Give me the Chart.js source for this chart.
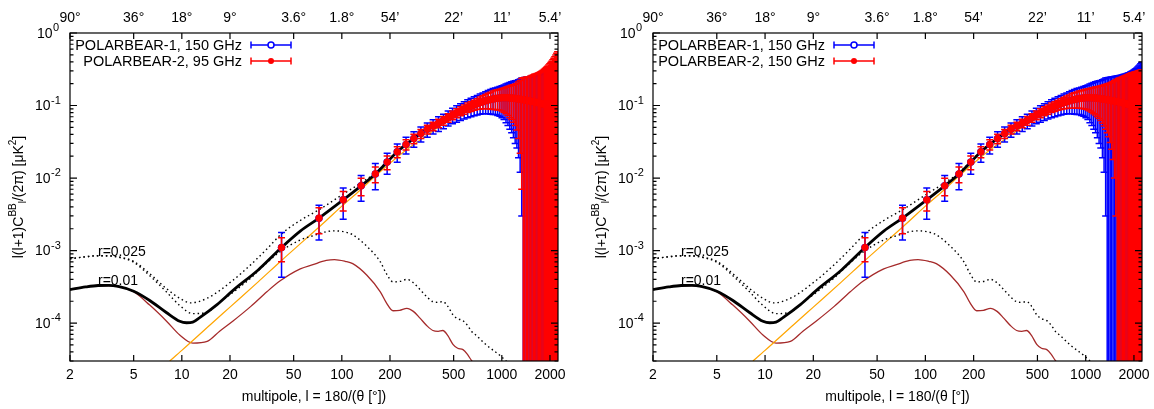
<!DOCTYPE html>
<html>
<head>
<meta charset="utf-8">
<script src="https://cdn.jsdelivr.net/npm/chart.js@4.4.0/dist/chart.umd.min.js"></script>
<style>
  body { margin: 0; background: #fff; width: 1154px; height: 409px; overflow: hidden; position: relative; }
  canvas { position: absolute; top: 0; }
  #left { left: 0; }
  #right { left: 577px; }
</style>
</head>
<body>
<canvas id="left" width="577" height="409"></canvas>
<canvas id="right" width="577" height="409"></canvas>
<script>
// bin centres (multipole l) and the fiducial band powers at those bins
const binL = [42, 72, 102, 132, 162, 192, 222, 252, 282, 312, 342, 372, 402, 432, 462, 492, 522, 552, 582, 612,
  642, 672, 702, 732, 762, 792, 822, 852, 882, 912, 942, 972, 1002, 1032, 1062, 1092, 1122, 1152, 1182, 1212,
  1242, 1272, 1302, 1332, 1362, 1392, 1422, 1452, 1482, 1512, 1542, 1572, 1602, 1632, 1662, 1692, 1722, 1752,
  1782, 1812, 1842, 1872, 1902, 1932, 1962, 1992, 2022, 2052, 2082, 2112, 2142, 2172, 2202, 2232];
const binC = [0.0011, 0.0028, 0.0050, 0.0078, 0.0114, 0.0166, 0.023, 0.029, 0.035, 0.041, 0.047, 0.052, 0.057,
  0.062, 0.068, 0.074, 0.079, 0.084, 0.089, 0.094, 0.098, 0.102, 0.106, 0.110, 0.113, 0.116, 0.119, 0.121, 0.123,
  0.125, 0.126, 0.127, 0.128, 0.128, 0.128, 0.128, 0.127, 0.127, 0.126, 0.125, 0.124, 0.123, 0.122, 0.121, 0.120,
  0.119, 0.118, 0.117, 0.116, 0.115, 0.114, 0.113, 0.112, 0.111, 0.110, 0.109, 0.108, 0.107, 0.106, 0.105, 0.104,
  0.103, 0.102, 0.101, 0.100, 0.099, 0.098, 0.097, 0.096, 0.095, 0.094, 0.093, 0.092, 0.091];

// 1-sigma errors
const errPB1 = [0.00067, 0.0014, 0.0023, 0.0030, 0.0045, 0.0053, 0.0065, 0.0075, 0.0085, 0.0095, 0.0105, 0.0115,
  0.013, 0.014, 0.016, 0.018, 0.020, 0.022, 0.024, 0.026, 0.028, 0.030, 0.032, 0.034, 0.036, 0.039, 0.042, 0.045,
  0.048, 0.050, 0.053, 0.056, 0.060, 0.064, 0.070, 0.075, 0.080, 0.085, 0.090, 0.095, 0.098, 0.104, 0.110, 0.118,
  0.122, 0.125, 0.128, 0.131, 0.134, 0.137, 0.140, 0.143, 0.146, 0.149, 0.152, 0.155, 0.159, 0.163, 0.167, 0.171,
  0.176, 0.181, 0.187, 0.193, 0.200, 0.207, 0.215, 0.224, 0.234, 0.245, 0.257, 0.270, 0.285, 0.300];
const errPB2_95 = [0.0004, 0.0011, 0.0015, 0.0021, 0.0028, 0.0036, 0.0040, 0.0046, 0.0052, 0.0058, 0.0064, 0.0070,
  0.0078, 0.0085, 0.0093, 0.0102, 0.011, 0.012, 0.013, 0.014, 0.015, 0.016, 0.018, 0.021, 0.023, 0.026, 0.029,
  0.032, 0.035, 0.037, 0.039, 0.041, 0.044, 0.047, 0.051, 0.055, 0.059, 0.063, 0.067, 0.072, 0.078, 0.088, 0.100,
  0.114, 0.121, 0.124, 0.127, 0.130, 0.134, 0.139, 0.145, 0.151, 0.157, 0.162, 0.167, 0.172, 0.178, 0.185, 0.193,
  0.202, 0.212, 0.223, 0.235, 0.248, 0.262, 0.277, 0.294, 0.312, 0.332, 0.354, 0.378, 0.404, 0.432, 0.462];
const errPB2_150 = [0.0004, 0.0011, 0.0015, 0.0021, 0.0028, 0.0036, 0.0040, 0.0046, 0.0052, 0.0058, 0.0064, 0.0070,
  0.0078, 0.0085, 0.0093, 0.0102, 0.011, 0.012, 0.013, 0.014, 0.015, 0.016, 0.018, 0.020, 0.022, 0.024, 0.027,
  0.029, 0.031, 0.033, 0.035, 0.037, 0.039, 0.041, 0.044, 0.047, 0.050, 0.053, 0.056, 0.059, 0.062, 0.066, 0.070,
  0.074, 0.078, 0.082, 0.087, 0.092, 0.098, 0.105, 0.111, 0.118, 0.124, 0.129, 0.134, 0.139, 0.144, 0.149, 0.154,
  0.159, 0.164, 0.169, 0.174, 0.179, 0.183, 0.187, 0.191, 0.195, 0.199, 0.203, 0.207, 0.211, 0.215, 0.219];

// theory curves
const totL = [2, 2.5, 3, 3.5, 4, 5, 6.3, 8, 9.7, 10.7, 11.7, 13, 16.6, 21, 30, 42, 55, 72, 102, 132, 162, 192, 222,
  282, 342, 402, 462, 522, 612, 702, 822, 942, 1062, 1242, 1512, 1812, 2245];
const totR01 = [2.9e-4, 3.15e-4, 3.3e-4, 3.32e-4, 3.2e-4, 2.75e-4, 2.05e-4, 1.4e-4, 1.06e-4, 1.01e-4, 1.03e-4,
  1.2e-4, 1.8e-4, 2.85e-4, 5.4e-4, 1.1e-3, 1.85e-3, 2.8e-3, 5.0e-3, 7.8e-3, 0.0114, 0.0166, 0.023, 0.035, 0.047,
  0.057, 0.068, 0.079, 0.094, 0.106, 0.119, 0.126, 0.128, 0.124, 0.115, 0.105, 0.090];
const totR025L = [2, 2.5, 3, 3.5, 4, 5, 6.3, 8, 9.7, 11.3, 14.4, 20.9, 27, 34, 42, 55, 72, 102, 132, 162, 192, 222,
  282, 342, 402, 462, 522, 612, 702, 822, 942, 1062, 1242, 1512, 1812, 2245];
const totR025 = [7.7e-4, 8.2e-4, 8.5e-4, 8.5e-4, 8.2e-4, 7.1e-4, 4.8e-4, 3.0e-4, 2.2e-4, 1.9e-4, 2.2e-4, 3.9e-4,
  6.4e-4, 1.05e-3, 1.7e-3, 2.6e-3, 3.65e-3, 6.0e-3, 8.6e-3, 0.0118, 0.0171, 0.0235, 0.0355, 0.047, 0.057, 0.068,
  0.079, 0.094, 0.106, 0.119, 0.126, 0.128, 0.124, 0.115, 0.105, 0.090];
const tensL = [2, 2.5, 3, 3.5, 4, 5, 6.3, 8, 9.7, 11.7, 14.4, 17.3, 20.9, 27, 34, 41, 55, 66, 80, 90, 105, 117, 143,
  174, 190, 209, 230, 255, 280, 308, 340, 371, 400, 428, 460, 495, 530, 572, 610, 650, 690, 800, 986, 1100];
const tensR01 = [2.9e-4, 3.15e-4, 3.3e-4, 3.3e-4, 3.18e-4, 2.7e-4, 1.77e-4, 1.07e-4, 6.85e-5, 5.3e-5, 5.6e-5,
  7.8e-5, 1.07e-4, 1.7e-4, 2.7e-4, 3.8e-4, 5.6e-4, 6.4e-4, 7.3e-4, 7.5e-4, 7.1e-4, 6.6e-4, 4.6e-4, 2.7e-4, 1.9e-4,
  1.48e-4, 1.5e-4, 1.6e-4, 1.45e-4, 1.17e-4, 9.2e-5, 7.9e-5, 7.7e-5, 7.9e-5, 6.7e-5, 5.1e-5, 4.5e-5, 4.3e-5,
  3.7e-5, 3.0e-5, 2.7e-5, 2.0e-5, 1.4e-5, 1.1e-5];
const tensR025 = [7.7e-4, 8.2e-4, 8.5e-4, 8.4e-4, 8.1e-4, 6.9e-4, 4.5e-4, 2.7e-4, 1.75e-4, 1.35e-4, 1.42e-4,
  1.95e-4, 2.65e-4, 4.2e-4, 6.8e-4, 9.6e-4, 1.4e-3, 1.6e-3, 1.82e-3, 1.87e-3, 1.8e-3, 1.65e-3, 1.15e-3, 7.0e-4,
  4.8e-4, 3.7e-4, 3.75e-4, 4.0e-4, 3.6e-4, 2.9e-4, 2.3e-4, 1.97e-4, 1.93e-4, 1.98e-4, 1.7e-4, 1.3e-4, 1.15e-4,
  1.08e-4, 9.3e-5, 7.6e-5, 6.8e-5, 5.0e-5, 3.5e-5, 2.8e-5];
const lensL = [8.4, 10, 15, 20, 30, 42, 60, 80, 100, 130, 160, 200, 250, 300, 400, 500, 600, 700, 800, 900, 1000,
  1200, 1500, 1800, 2245];
const lensCl = [3.0e-5, 4.2e-5, 9.4e-5, 1.66e-4, 3.7e-4, 7.3e-4, 1.47e-3, 2.6e-3, 4.1e-3, 6.8e-3, 0.0104, 0.0160,
  0.024, 0.032, 0.050, 0.070, 0.087, 0.100, 0.110, 0.118, 0.124, 0.126, 0.116, 0.105, 0.090];

// axis ticks
const xTicks = [2, 5, 10, 20, 50, 100, 200, 500, 1000, 2000];
const topLabels = ["90°", "36°", "18°", "9°", "3.6°", "1.8°", "54’", "22’", "11’", "5.4’"];
const yExps = [0, -1, -2, -3, -4];

const FONT = '"Liberation Sans", Arial, Helvetica, sans-serif';
const pts = (xs, ys) => xs.map((v, i) => ({ x: v, y: ys[i] }));

// vertical error bars for datasets that carry an errs array
const errorBars = {
  id: "errorBars",
  beforeDatasetDraw(chart, args) {
    const ds = chart.data.datasets[args.index];
    if (!ds.errs) return;
    const { ctx, chartArea: a } = chart;
    const x = chart.scales.x, y = chart.scales.y;
    ctx.save();
    ctx.beginPath();
    ctx.rect(a.left, a.top, a.right - a.left, a.bottom - a.top);
    ctx.clip();
    ctx.strokeStyle = ds.borderColor;
    ctx.lineWidth = 1.5;
    ds.data.forEach((p, i) => {
      const px = x.getPixelForValue(p.x);
      const hi = p.y + ds.errs[i];
      const lo = p.y - ds.errs[i];
      const yHi = y.getPixelForValue(hi);
      const yLo = lo > 0 ? y.getPixelForValue(lo) : a.bottom + 10;
      ctx.beginPath();
      ctx.moveTo(px, yLo);
      ctx.lineTo(px, yHi);
      ctx.moveTo(px - 3.5, yHi);
      ctx.lineTo(px + 3.5, yHi);
      if (lo > 0) {
        ctx.moveTo(px - 3.5, yLo);
        ctx.lineTo(px + 3.5, yLo);
      }
      ctx.stroke();
    });
    ctx.restore();
  },
};

// border, ticks, labels, legend (gnuplot look)
const frame = {
  id: "frame",
  afterDraw(chart) {
    const { ctx, chartArea: a } = chart;
    const x = chart.scales.x, y = chart.scales.y;
    const o = chart.options.plugins.frame;
    ctx.save();
    ctx.strokeStyle = "#000";
    ctx.lineWidth = 1.2;
    ctx.strokeRect(a.left, a.top, a.right - a.left, a.bottom - a.top);

    ctx.beginPath();
    xTicks.forEach((v) => {
      const px = x.getPixelForValue(v);
      ctx.moveTo(px, a.bottom);
      ctx.lineTo(px, a.bottom - 6);
      ctx.moveTo(px, a.top);
      ctx.lineTo(px, a.top + 6);
    });
    for (let d = -5; d <= 0; d++) {
      for (let k = 1; k <= 9; k++) {
        const v = k * Math.pow(10, d);
        if (v < 3e-5 || v > 1.0001) continue;
        const py = y.getPixelForValue(v);
        const len = k === 1 ? 7 : 3.5;
        ctx.moveTo(a.left, py);
        ctx.lineTo(a.left + len, py);
        ctx.moveTo(a.right, py);
        ctx.lineTo(a.right - len, py);
      }
    }
    ctx.stroke();

    ctx.fillStyle = "#000";
    ctx.font = "14px " + FONT;
    ctx.textAlign = "center";
    ctx.textBaseline = "middle";
    xTicks.forEach((v, i) => {
      const px = x.getPixelForValue(v);
      ctx.fillText(String(v), px, a.bottom + 14);
      ctx.fillText(topLabels[i], px, 18);
    });

    // y tick labels 10^n
    yExps.forEach((e) => {
      const py = y.getPixelForValue(Math.pow(10, e));
      const x0 = a.left - (e === 0 ? 33 : 35);
      ctx.textAlign = "left";
      ctx.font = "14px " + FONT;
      ctx.fillText("10", x0, py + 1);
      const w = ctx.measureText("10").width;
      ctx.font = "11px " + FONT;
      ctx.fillText(e === 0 ? "0" : "-" + (-e), x0 + w + 0.5, py - 5);
    });

    // axis titles
    ctx.font = "14px " + FONT;
    ctx.textAlign = "center";
    ctx.fillText("multipole, l = 180/(θ [°])", (a.left + a.right) / 2, 397);

    const parts = [
      ["l(l+1)C", 14, 0], ["BB", 10, -6], ["l", 10, 4], ["/(2π) [μK", 14, 0], ["2", 10, -6], ["]", 14, 0],
    ];
    ctx.save();
    ctx.translate(a.left - 51, (a.top + a.bottom) / 2);
    ctx.rotate(-Math.PI / 2);
    let total = 0;
    parts.forEach((p) => { ctx.font = p[1] + "px " + FONT; total += ctx.measureText(p[0]).width; });
    let cx = -total / 2;
    ctx.textAlign = "left";
    parts.forEach((p) => {
      ctx.font = p[1] + "px " + FONT;
      ctx.fillText(p[0], cx, p[2]);
      cx += ctx.measureText(p[0]).width;
    });
    ctx.restore();

    // curve annotations
    ctx.font = "14px " + FONT;
    ctx.textAlign = "left";
    ctx.fillText("r=0.025", a.left + 28, 252);
    ctx.fillText("r=0.01", a.left + 28, 281);

    // legend
    const rows = [
      [o.label1, "#0000ff", false, 45],
      [o.label2, "#ff0000", true, 61],
    ];
    rows.forEach(([txt, col, filled, ry]) => {
      ctx.font = "14.5px " + FONT;
      ctx.textAlign = "right";
      ctx.fillStyle = "#000";
      ctx.fillText(txt, a.left + 172, ry + 1);
      const x1 = a.left + 181, x2 = a.left + 221, xm = a.left + 201;
      ctx.strokeStyle = col;
      ctx.lineWidth = 1.5;
      ctx.beginPath();
      ctx.moveTo(x1, ry); ctx.lineTo(x2, ry);
      ctx.moveTo(x1, ry - 3.5); ctx.lineTo(x1, ry + 3.5);
      ctx.moveTo(x2, ry - 3.5); ctx.lineTo(x2, ry + 3.5);
      ctx.stroke();
      ctx.beginPath();
      ctx.arc(xm, ry, 3, 0, Math.PI * 2);
      if (filled) { ctx.fillStyle = col; ctx.fill(); }
      else { ctx.fillStyle = "#fff"; ctx.fill(); ctx.stroke(); }
    });
    ctx.restore();
  },
};

function makeChart(id, pad, pb2Err, label2) {
  const curve = (data, color, width, order, dash) => ({
    data, showLine: true, pointRadius: 0, borderColor: color, borderWidth: width,
    borderDash: dash || [], cubicInterpolationMode: "monotone", order,
  });
  return new Chart(document.getElementById(id), {
    type: "scatter",
    data: {
      datasets: [
        {
          label: label2, data: pts(binL, binC), errs: pb2Err, showLine: false,
          borderColor: "#ff0000", backgroundColor: "#ff0000", pointRadius: 3.3, pointBorderWidth: 1, order: 0,
        },
        {
          label: "POLARBEAR-1, 150 GHz", data: pts(binL, binC), errs: errPB1, showLine: false,
          borderColor: "#0000ff", backgroundColor: "rgba(0,0,0,0)", pointRadius: 3, pointBorderWidth: 1.5, order: 1,
        },
        curve(pts(totL, totR01), "#000000", 2.8, 2),
        curve(pts(totR025L, totR025), "#000000", 1.4, 3, [1.5, 3]),
        curve(pts(tensL, tensR025), "#000000", 1.4, 3, [1.5, 3]),
        curve(pts(lensL, lensCl), "#ffa500", 1.2, 4),
        curve(pts(tensL, tensR01), "#a52a2a", 1.3, 5),
      ],
    },
    options: {
      responsive: false,
      animation: false,
      layout: { padding: pad },
      plugins: {
        legend: { display: false },
        tooltip: { enabled: false },
        frame: { label1: "POLARBEAR-1, 150 GHz", label2: label2 },
      },
      scales: {
        x: { type: "logarithmic", min: 2, max: 2245, display: false },
        y: { type: "logarithmic", min: 3e-5, max: 1, display: false },
      },
    },
    plugins: [errorBars, frame],
  });
}

makeChart("left", { left: 70, right: 19, top: 33, bottom: 48 }, errPB2_95, "POLARBEAR-2, 95 GHz");
makeChart("right", { left: 76, right: 12, top: 33, bottom: 48 }, errPB2_150, "POLARBEAR-2, 150 GHz");
</script>
</body>
</html>
